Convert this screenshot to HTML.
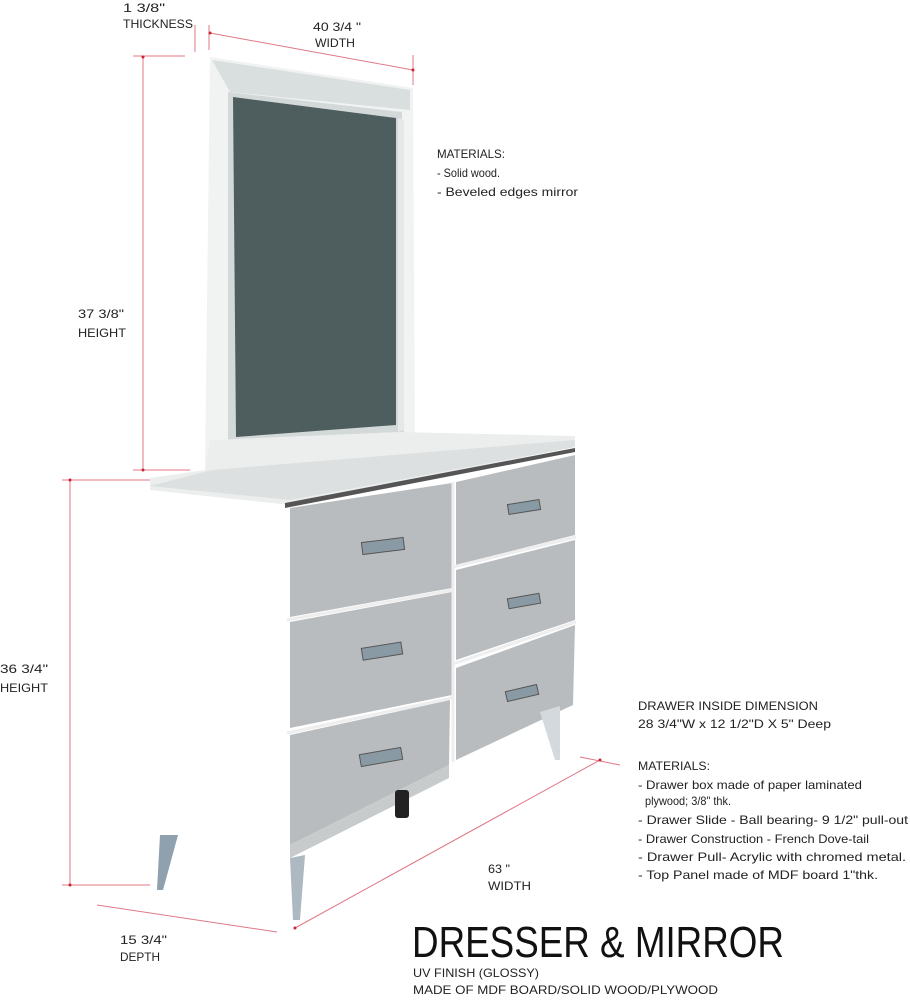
<!DOCTYPE html>
<html><head><meta charset="utf-8"><style>
html,body{margin:0;padding:0;background:#fff;}
svg{display:block}
text{font-family:"Liberation Sans",sans-serif;fill:#222;font-size:12px;}
</style></head><body>
<svg width="910" height="1000" viewBox="0 0 910 1000" xmlns="http://www.w3.org/2000/svg">
<rect width="910" height="1000" fill="#fff"/>
<!-- mirror frame -->
<polygon points="210,57 413,88 415,440 205,470" fill="#f1f3f3"/>
<polygon points="212,60 410,90 410,110 230,92" fill="#d9dede"/>
<polygon points="228,92 402,112 404,436 228,450" fill="#d3d8d8"/>
<polygon points="233,97 396,118 396,425 236,437" fill="#4e5d5d"/>
<polygon points="398,118 404,120 404,430 398,432" fill="#e4e8e8"/>
<!-- dresser top -->
<polygon points="150,478 205,470 210,440 400,432 575,436 575,447 290,505 150,490" fill="#eceeee"/>
<polygon points="212,470 575,440 575,447 290,500 150,486" fill="#dde0e0"/>
<polygon points="285,503 575,448 575,452 285,508" fill="#555"/>
<!-- left drawers -->
<polygon points="290,508 452,483 452,588 290,617" fill="#b9bcbe"/>
<polygon points="290,622 452,592 452,695 290,728" fill="#b9bcbe"/>
<polygon points="290,735 450,700 449,765 290,845" fill="#b9bcbe"/>
<line x1="287" y1="620" x2="452" y2="590" stroke="#eee" stroke-width="3"/>
<line x1="287" y1="733" x2="452" y2="698" stroke="#eee" stroke-width="3"/>
<!-- right drawers -->
<polygon points="456,482 575,455 575,535 456,565" fill="#b9bcbe"/>
<polygon points="456,570 575,540 575,620 456,660" fill="#b9bcbe"/>
<polygon points="456,668 575,625 573,705 456,760" fill="#b9bcbe"/>
<line x1="453" y1="567" x2="576" y2="537" stroke="#eee" stroke-width="3"/>
<line x1="453" y1="664" x2="576" y2="622" stroke="#eee" stroke-width="3"/>
<line x1="453" y1="482" x2="453" y2="762" stroke="#eee" stroke-width="3"/>
<!-- left bottom panel -->
<polygon points="290,845 449,765 449,778 290,858" fill="#c8cbcc"/>
<!-- handles -->
<g fill="#8a9aa4" stroke="#555" stroke-width="1">
<rect x="362" y="540" width="42" height="12" transform="rotate(-7 383 546)"/>
<rect x="362" y="645" width="40" height="12" transform="rotate(-9 383 651)"/>
<rect x="360" y="751" width="42" height="12" transform="rotate(-10 381 757)"/>
<rect x="508" y="502" width="32" height="10" transform="rotate(-9 524 507)"/>
<rect x="508" y="596" width="32" height="10" transform="rotate(-10 524 601)"/>
<rect x="506" y="688" width="32" height="10" transform="rotate(-13 522 693)"/>
</g>
<!-- legs -->
<polygon points="290,858 305,855 300,920 293,920" fill="#aeb8c0"/>
<polygon points="160,835 178,835 163,890 157,890" fill="#8fa0ae"/>
<polygon points="540,712 560,706 560,760 555,760" fill="#d3d9dd"/>
<rect x="395" y="790" width="14" height="28" rx="3" fill="#222"/>
<!-- dimension lines -->
<g stroke="#e07886" stroke-width="1" fill="none">
<line x1="210" y1="33" x2="413" y2="70"/>
<line x1="209" y1="25" x2="209" y2="50"/>
<line x1="413" y1="55" x2="413" y2="85"/>
<line x1="195" y1="25" x2="195" y2="52"/>
<line x1="133" y1="56" x2="185" y2="56"/>
<line x1="143" y1="57" x2="143" y2="470"/>
<line x1="133" y1="470" x2="190" y2="470"/>
<line x1="70" y1="480" x2="70" y2="885"/>
<line x1="62" y1="480" x2="150" y2="480"/>
<line x1="62" y1="885" x2="150" y2="885"/>
<line x1="97" y1="905" x2="277" y2="932"/>
<line x1="295" y1="928" x2="600" y2="760"/>
<line x1="580" y1="757" x2="620" y2="765"/>
</g>
<g fill="#c23">
<circle cx="210" cy="33" r="1.5"/><circle cx="413" cy="70" r="1.5"/>
<circle cx="143" cy="57" r="1.5"/><circle cx="143" cy="470" r="1.5"/>
<circle cx="70" cy="480" r="1.5"/><circle cx="70" cy="885" r="1.5"/>
<circle cx="295" cy="928" r="1.5"/><circle cx="600" cy="760" r="1.5"/>
</g>
<!-- labels -->
<g>
<text x="123" y="12" textLength="42" lengthAdjust="spacingAndGlyphs">1 3/8"</text>
<text x="123" y="28" textLength="70" lengthAdjust="spacingAndGlyphs">THICKNESS</text>
<text x="313" y="31" textLength="48" lengthAdjust="spacingAndGlyphs">40 3/4 "</text>
<text x="315" y="47" textLength="40" lengthAdjust="spacingAndGlyphs">WIDTH</text>
<text x="78" y="318" textLength="46" lengthAdjust="spacingAndGlyphs">37 3/8"</text>
<text x="78" y="337" textLength="48" lengthAdjust="spacingAndGlyphs">HEIGHT</text>
<text x="0" y="673" textLength="48" lengthAdjust="spacingAndGlyphs">36 3/4"</text>
<text x="0" y="692" textLength="48" lengthAdjust="spacingAndGlyphs">HEIGHT</text>
<text x="488" y="873" textLength="22" lengthAdjust="spacingAndGlyphs">63 "</text>
<text x="488" y="890" textLength="43" lengthAdjust="spacingAndGlyphs">WIDTH</text>
<text x="120" y="944" textLength="47" lengthAdjust="spacingAndGlyphs">15 3/4"</text>
<text x="120" y="961" textLength="40" lengthAdjust="spacingAndGlyphs">DEPTH</text>
<text x="437" y="158" textLength="68" lengthAdjust="spacingAndGlyphs">MATERIALS:</text>
<text x="437" y="177" textLength="63" lengthAdjust="spacingAndGlyphs">- Solid wood.</text>
<text x="437" y="196" textLength="141" lengthAdjust="spacingAndGlyphs">- Beveled edges mirror</text>
<text x="638" y="710" textLength="180" lengthAdjust="spacingAndGlyphs">DRAWER INSIDE DIMENSION</text>
<text x="638" y="728" textLength="193" lengthAdjust="spacingAndGlyphs">28 3/4"W x 12 1/2"D X 5" Deep</text>
<text x="638" y="770" textLength="72" lengthAdjust="spacingAndGlyphs">MATERIALS:</text>
<text x="638" y="789" textLength="224" lengthAdjust="spacingAndGlyphs">- Drawer box made of paper laminated</text>
<text x="645" y="805" textLength="86" lengthAdjust="spacingAndGlyphs">plywood; 3/8" thk.</text>
<text x="638" y="824" textLength="270" lengthAdjust="spacingAndGlyphs">- Drawer Slide - Ball bearing- 9 1/2" pull-out</text>
<text x="638" y="843" textLength="231" lengthAdjust="spacingAndGlyphs">- Drawer Construction - French Dove-tail</text>
<text x="638" y="861" textLength="268" lengthAdjust="spacingAndGlyphs">- Drawer Pull- Acrylic with chromed metal.</text>
<text x="638" y="879" textLength="240" lengthAdjust="spacingAndGlyphs">- Top Panel made of MDF board 1"thk.</text>
<text x="412" y="957" textLength="372" style="font-size:44px;fill:#111" lengthAdjust="spacingAndGlyphs">DRESSER &amp; MIRROR</text>
<text x="413" y="977" textLength="126" lengthAdjust="spacingAndGlyphs">UV FINISH (GLOSSY)</text>
<text x="413" y="994" textLength="305" lengthAdjust="spacingAndGlyphs">MADE OF MDF BOARD/SOLID WOOD/PLYWOOD</text>
</g>
</svg>
</body></html>
